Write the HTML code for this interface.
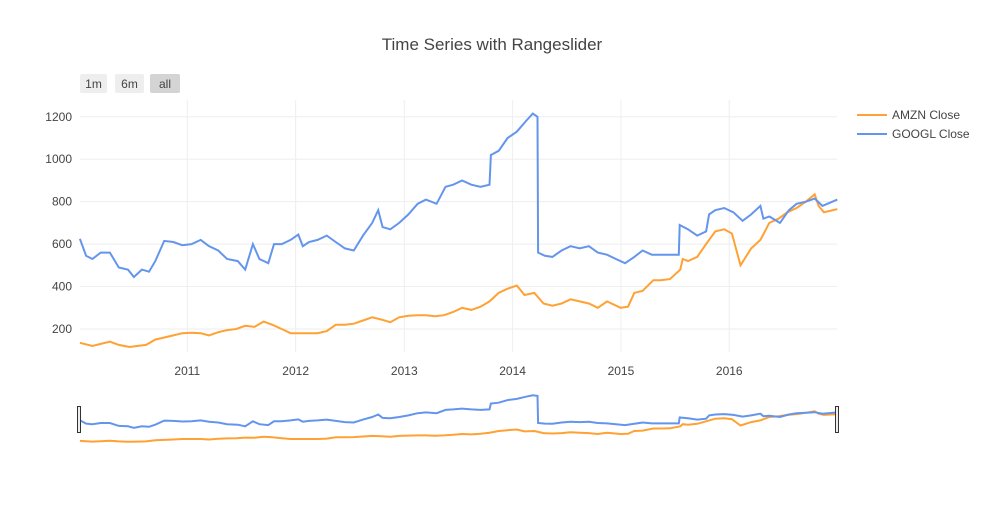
<!DOCTYPE html>
<html><head><meta charset="utf-8"><style>
body{margin:0;background:#fff;font-family:"Liberation Sans",sans-serif;}
svg text{font-family:"Liberation Sans",sans-serif;fill:#444;}
</style></head><body>
<svg id="chart" width="985" height="525">
<text x="492" y="50" text-anchor="middle" font-size="17">Time Series with Rangeslider</text>
<g>
<g><rect x="80" y="74" width="27" height="19" rx="2" fill="#eeeeee"/><text x="93.5" y="88" text-anchor="middle" font-size="12">1m</text></g>
<g><rect x="115" y="74" width="29" height="19" rx="2" fill="#eeeeee"/><text x="129.5" y="88" text-anchor="middle" font-size="12">6m</text></g>
<g><rect x="150" y="74" width="30" height="19" rx="2" fill="#d4d4d4"/><text x="165" y="88" text-anchor="middle" font-size="12">all</text></g>
</g>
<g id="grid"></g>
<g id="yticks"></g>
<g id="xticks"></g>
<g id="series"></g>
<g id="slider"></g>
<g>
<g><line x1="857" y1="115" x2="887" y2="115" stroke="#FFA133" stroke-width="2"/><text x="892" y="119" font-size="12">AMZN Close</text></g>
<g><line x1="857" y1="134" x2="887" y2="134" stroke="#6495ED" stroke-width="2"/><text x="892" y="138" font-size="12">GOOGL Close</text></g>
</g>
</svg>
<script>
const googlDates=["2010-01-04","2010-01-25","2010-02-15","2010-03-15","2010-04-15","2010-05-15","2010-06-15","2010-07-05","2010-08-01","2010-08-25","2010-09-15","2010-10-15","2010-11-15","2010-12-15","2011-01-15","2011-02-15","2011-03-15","2011-04-15","2011-05-15","2011-06-20","2011-07-15","2011-08-10","2011-09-01","2011-10-01","2011-10-20","2011-11-15","2011-12-15","2012-01-10","2012-01-25","2012-02-15","2012-03-15","2012-04-15","2012-05-15","2012-06-15","2012-07-15","2012-08-15","2012-09-15","2012-10-05","2012-10-20","2012-11-15","2012-12-15","2013-01-15","2013-02-15","2013-03-15","2013-04-20","2013-05-20","2013-06-15","2013-07-15","2013-08-15","2013-09-15","2013-10-15","2013-10-20","2013-11-15","2013-12-15","2014-01-15","2014-02-15","2014-03-10","2014-03-26","2014-03-28","2014-04-20","2014-05-15","2014-06-15","2014-07-15","2014-08-15","2014-09-15","2014-10-15","2014-11-15","2014-12-15","2015-01-15","2015-02-15","2015-03-15","2015-04-15","2015-05-15","2015-06-15","2015-07-15","2015-07-18","2015-08-15","2015-09-15","2015-10-15","2015-10-25","2015-11-15","2015-12-15","2016-01-15","2016-02-15","2016-03-15","2016-04-15","2016-04-25","2016-05-15","2016-06-20","2016-07-20","2016-08-15","2016-09-15","2016-10-15","2016-11-10","2016-12-30"];
const googlValues=[625,545,530,560,560,490,480,445,480,470,520,615,610,595,600,620,590,570,530,520,480,600,530,510,600,600,620,645,590,610,620,640,610,580,570,640,700,760,680,670,700,740,790,810,790,870,880,900,880,870,880,1020,1040,1100,1130,1180,1215,1200,560,545,540,570,590,580,590,560,550,530,510,540,570,550,550,550,550,690,670,640,660,740,760,770,750,710,740,780,720,730,700,760,790,800,815,780,810];
const amznDates=["2010-01-04","2010-02-15","2010-03-15","2010-04-15","2010-05-15","2010-06-20","2010-07-15","2010-08-15","2010-09-15","2010-10-15","2010-11-15","2010-12-15","2011-01-15","2011-02-15","2011-03-15","2011-04-15","2011-05-15","2011-06-15","2011-07-15","2011-08-15","2011-09-15","2011-10-15","2011-11-15","2011-12-15","2012-01-15","2012-02-15","2012-03-15","2012-04-15","2012-05-15","2012-06-15","2012-07-15","2012-08-15","2012-09-15","2012-10-15","2012-11-15","2012-12-15","2013-01-15","2013-02-15","2013-03-15","2013-04-15","2013-05-15","2013-06-15","2013-07-15","2013-08-15","2013-09-15","2013-10-15","2013-11-15","2013-12-15","2014-01-15","2014-02-10","2014-03-15","2014-04-15","2014-05-15","2014-06-15","2014-07-15","2014-08-15","2014-09-15","2014-10-15","2014-11-15","2014-12-31","2015-01-25","2015-02-15","2015-03-15","2015-04-20","2015-05-15","2015-06-15","2015-07-20","2015-07-28","2015-08-15","2015-09-15","2015-10-15","2015-11-15","2015-12-15","2016-01-10","2016-02-08","2016-03-15","2016-04-15","2016-05-15","2016-06-15","2016-07-15","2016-08-15","2016-09-15","2016-10-15","2016-10-28","2016-11-15","2016-12-30"];
const amznValues=[135,120,130,140,125,115,120,125,150,160,170,180,182,180,170,185,195,200,215,210,235,220,200,180,180,180,180,190,220,220,225,240,255,245,232,255,262,265,265,260,265,280,300,290,305,330,370,390,405,360,370,320,310,320,340,330,320,300,330,300,305,370,380,430,430,435,480,530,520,540,600,660,670,650,500,580,620,700,720,750,770,800,835,780,750,765];
const yTicks=[200,400,600,800,1000,1200];
const xTickYears=[2011,2012,2013,2014,2015,2016];

const NS="http://www.w3.org/2000/svg";
const x0=Date.UTC(2010,0,1), msYear=365.25*86400000;
function xPos(d){const t=typeof d==="number"?Date.UTC(d,0,1):Date.parse(d);return 79+(t-x0)/msYear*108.4;}
function yMain(v){return 329-(v-200)*0.2122;}
function ySlider(v){return 442-(v-110)*0.0423;}
function mk(tag,attrs,parent){const e=document.createElementNS(NS,tag);for(const k in attrs)e.setAttribute(k,attrs[k]);parent.appendChild(e);return e;}
const grid=document.getElementById('grid'),yt=document.getElementById('yticks'),xt=document.getElementById('xticks'),ser=document.getElementById('series'),sl=document.getElementById('slider');
yTicks.forEach(v=>{
 const l=mk('line',{x1:80,x2:837,y1:yMain(v),y2:yMain(v),stroke:'#eeeeee','stroke-width':1},grid);
 
 
 const t=mk('text',{x:72,y:yMain(v)+4,'text-anchor':'end','font-size':12},yt);t.textContent=v;
 
 
});
xTickYears.forEach(yr=>{
 const l=mk('line',{x1:xPos(yr),x2:xPos(yr),y1:100,y2:352,stroke:'#eeeeee','stroke-width':1},grid);
 
 
 const t=mk('text',{x:xPos(yr),y:375,'text-anchor':'middle','font-size':12},xt);t.textContent=yr;
 
 
});
function path(dates,vals,yf){return dates.map((d,i)=>(i?'L':'M')+xPos(d).toFixed(1)+','+yf(vals[i]).toFixed(1)).join('');}
const pa=mk('path',{d:path(amznDates,amznValues,yMain),fill:'none',stroke:'#FFA133','stroke-width':2},ser);


const pg=mk('path',{d:path(googlDates,googlValues,yMain),fill:'none',stroke:'#6495ED','stroke-width':2},ser);


const sa=mk('path',{d:path(amznDates,amznValues,ySlider),fill:'none',stroke:'#FFA133','stroke-width':2},sl);


const sg=mk('path',{d:path(googlDates,googlValues,ySlider),fill:'none',stroke:'#6495ED','stroke-width':2},sl);


[[77.5,'slider-handle-left'],[835.5,'slider-handle-right']].forEach(h=>{
 const r=mk('rect',{x:h[0],y:406.5,width:3,height:26,fill:'#eee',stroke:'#333','stroke-width':1},sl);
 
 
});
</script>
</body></html>
